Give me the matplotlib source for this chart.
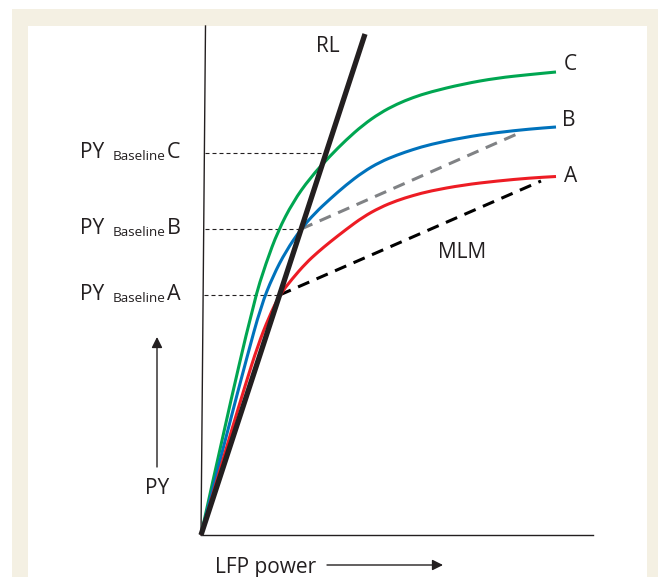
import matplotlib
matplotlib.use('Agg')
import matplotlib.pyplot as plt
from matplotlib.patches import Rectangle, PathPatch
from matplotlib.path import Path

plt.rcParams['font.family'] = ['Open Sans', 'DejaVu Sans']

# LFP power (x) vs PY (y), arbitrary units
green_x = [0, 2.3, 5.3, 6.5, 7.7, 9.2, 10.9, 12.9, 14.5, 16.2, 17.9, 19.6, 21.2, 22.9, 26.2, 29.6, 32.9, 35.5]
green_y = [0, 10.5, 23.4, 27.2, 30.4, 33.3, 35.7, 37.9, 39.5, 41.0, 42.2, 43.1, 43.75, 44.3, 45.1, 45.7, 46.05, 46.3]

blue_x = [0, 2.7, 4.6, 6.0, 7.2, 8.5, 10.0, 11.4, 12.9, 14.5, 16.2, 17.9, 19.6, 21.2, 22.9, 26.2, 29.6, 32.9, 35.5]
blue_y = [0, 10.6, 17.8, 22.9, 25.9, 28.4, 30.6, 32.2, 33.6, 35.0, 36.3, 37.3, 38.0, 38.55, 39.05, 39.75, 40.25, 40.6, 40.8]

red_x = [0, 1.6, 3.1, 4.4, 5.7, 6.8, 7.86, 9.1, 10.5, 11.7, 12.9, 14.5, 16.2, 17.9, 19.6, 21.2, 22.9, 26.2, 29.6, 32.9, 35.5]
red_y = [0, 5.5, 10.6, 14.9, 19.0, 21.8, 24.0, 25.6, 27.2, 28.3, 29.3, 30.55, 31.8, 32.75, 33.45, 33.95, 34.4, 35.0, 35.4, 35.7, 35.85]

# RL line end point
rl_end = (16.4, 50.1)
rl_slope = rl_end[1] / rl_end[0]

# baseline PY levels for A, B, C
baselines = {'A': 24.0, 'B': 30.6, 'C': 38.2}

# MLM end points
mlm_a_end = (34.0, 35.4)
mlm_b_end = (31.6, 40.1)

x_axis_end = 39.2
y_axis_top = (0.45, 50.9)

ink = '#231f20'
green = '#00a651'
blue = '#0072bc'
red = '#ed1c24'
grey = '#808285'
beige = '#f4f0e3'


def smooth_curve(ax, xs, ys, color):
    # quadratic segments through midpoints, using the points as control points
    verts = [(xs[0], ys[0])]
    codes = [Path.MOVETO]
    for i in range(1, len(xs) - 1):
        mid = ((xs[i] + xs[i + 1]) / 2, (ys[i] + ys[i + 1]) / 2)
        verts += [(xs[i], ys[i]), mid]
        codes += [Path.CURVE3, Path.CURVE3]
    verts.append((xs[-1], ys[-1]))
    codes.append(Path.LINETO)
    ax.add_patch(PathPatch(Path(verts, codes), facecolor='none', edgecolor=color,
                           lw=2.2, capstyle='butt', zorder=4))


fig = plt.figure(figsize=(6.58, 5.77), dpi=100)
ax = fig.add_axes([0, 0, 1, 1])
ax.set_xlim(-20.1, 45.7)
ax.set_ylim(-4.2, 53.5)
ax.axis('off')

# frame
ax.add_patch(Rectangle((12 / 658, 0), 1, 1 - 9 / 577, transform=ax.transAxes,
                       facecolor=beige, edgecolor='none', zorder=0))
ax.add_patch(Rectangle((28 / 658, 0), (647 - 28) / 658, 1 - 26 / 577, transform=ax.transAxes,
                       facecolor='white', edgecolor='none', zorder=0))

# axes lines
ax.plot([0, x_axis_end], [0, 0], color=ink, lw=1.0, zorder=2)
ax.plot([0, y_axis_top[0]], [0, y_axis_top[1]], color=ink, lw=1.0, zorder=2)

# baseline dashed guides
for name, yb in baselines.items():
    x0 = y_axis_top[0] * yb / y_axis_top[1] + 0.1
    ax.plot([x0, yb / rl_slope], [yb, yb], color=ink, lw=0.8, dashes=(3.6, 2.7), zorder=2)
    ax.text(-12.1, yb - 0.45, 'PY', fontsize=15, color=ink, ha='left', va='baseline')
    ax.text(-8.8, yb - 0.75, 'Baseline', fontsize=9.7, color=ink, ha='left', va='baseline')
    ax.text(-3.4, yb - 0.45, name, fontsize=15.5, color=ink, ha='left', va='baseline')

# MLM dashed lines
yA, yB = baselines['A'], baselines['B']
ax.plot([yB / rl_slope, mlm_b_end[0]], [yB, mlm_b_end[1]], color=grey, lw=2.2,
        dashes=(4, 2.6), zorder=3)
ax.plot([yA / rl_slope, mlm_a_end[0]], [yA, mlm_a_end[1]], color='black', lw=2.2,
        dashes=(4, 2.6), zorder=3)

# PY curves
smooth_curve(ax, green_x, green_y, green)
smooth_curve(ax, blue_x, blue_y, blue)
smooth_curve(ax, red_x, red_y, red)

# RL
ax.plot([0, rl_end[0]], [0, rl_end[1]], color=ink, lw=3.8, zorder=5, solid_capstyle='butt')

# labels
ax.text(12.7, 48.8, 'RL', fontsize=15, color=ink, ha='center', va='center')
ax.text(36.3, 47.0, 'C', fontsize=15, color=ink, ha='left', va='center')
ax.text(36.1, 41.5, 'B', fontsize=15, color=ink, ha='left', va='center')
ax.text(36.3, 35.8, 'A', fontsize=15, color=ink, ha='left', va='center')
ax.text(26.1, 28.3, 'MLM', fontsize=15, color=ink, ha='center', va='center')

# axis titles with arrows
ax.text(-4.4, 4.7, 'PY', fontsize=15, color=ink, ha='center', va='center')
ax.annotate('', xy=(-4.4, 19.8), xytext=(-4.4, 6.8),
            arrowprops=dict(arrowstyle='-|>', color=ink, lw=1.0, mutation_scale=16, shrinkA=0, shrinkB=0))
ax.text(1.4, -3.8, 'LFP power', fontsize=15, color=ink, ha='left', va='baseline')
ax.annotate('', xy=(24.2, -3.0), xytext=(12.6, -3.0),
            arrowprops=dict(arrowstyle='-|>', color=ink, lw=1.0, mutation_scale=16, shrinkA=0, shrinkB=0))

fig.savefig('out.png', dpi=100)
